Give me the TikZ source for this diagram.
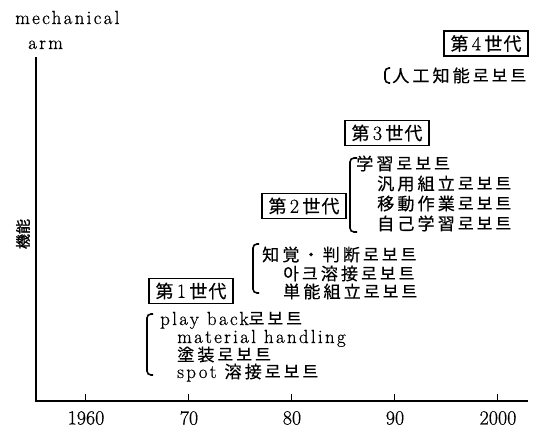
\documentclass[tikz,border=0pt]{standalone}
\usepackage{fontspec}
\setmainfont{Latin Modern Roman}[LetterSpace=12,FakeBold=0.6]
\newfontfamily\cjk{Noto Sans CJK JP}[Scale=0.9,LetterSpace=18,FakeBold=0.4]
\newfontfamily\cjkbox{Noto Sans CJK JP}[Scale=0.9,LetterSpace=6,FakeBold=0.4]
\newfontfamily\cjkb{Noto Sans CJK JP}[FakeBold=1.5]
\newfontfamily\digits{Latin Modern Roman}[FakeBold=0.6]
\begin{document}
\begin{tikzpicture}[x=1pt,y=-1pt,
  lbl/.style={anchor=base west,inner sep=0pt,text height=12pt,text depth=2pt,font=\fontsize{19}{21}\selectfont},
  genbox/.style={draw,line width=1.1pt,inner xsep=2pt,inner ysep=0pt,minimum width=84pt,minimum height=25pt,font=\fontsize{20}{22}\selectfont},
  brk/.style={line width=1.6pt,rounded corners=4pt},
  axisline/.style={line width=1.4pt},
  tick/.style={line width=1pt},
  yearlbl/.style={font=\digits\fontsize{20}{22}\selectfont,inner sep=0pt}]
\useasboundingbox (0,0) rectangle (540,428);
% axes
\coordinate (ytop) at (36,57);
\coordinate (O) at (36,401);
\coordinate (xend) at (528,401);
\draw[axisline] (ytop) -- (O) -- (xend);
\foreach \yr/\lab [count=\i] in {1960/1960,1970/70,1980/80,1990/90,2000/2000}{
  \coordinate (t\i) at ({85+10.3*(\yr-1960)},401);
  \draw[tick] (t\i) -- ++(0,-7);
  \node[yearlbl] (y\i) at ({86+10.3*(\yr-1960)},418) {\lab};
}
\node[lbl] (mech) at (15,24) {mechanical};
\node[lbl] (arm) at (28,49) {arm};
\node[rotate=90,inner sep=0pt,font=\cjkb\fontsize{15}{15}\selectfont] (kino) at (23,234) {機能};
% generation boxes
\node[genbox] (g4) at (486,43.5) {{\cjkbox 第}\,4\,{\cjkbox 世代}};
\node[genbox] (g3) at (387,133) {{\cjkbox 第}\,3\,{\cjkbox 世代}};
\node[genbox] (g2) at (304,206) {{\cjkbox 第}\,2\,{\cjkbox 世代}};
\node[genbox] (g1) at (191,291) {{\cjkbox 第}\,1\,{\cjkbox 世代}};
% gen 4
\draw[brk] (390,68) -- (385,68) -- (385,83) -- (390,83);
\node[lbl] (r41) at (392,82) {\cjk 人工知能로보트};
% gen 3
\draw[brk] (357,158) -- (350,158) -- (350,232) -- (357,232);
\node[lbl] (r31) at (356,170) {\cjk 学習로보트};
\node[lbl] (r32) at (377,190) {\cjk 汎用組立로보트};
\node[lbl] (r33) at (377,210) {\cjk 移動作業로보트};
\node[lbl] (r34) at (377,230) {\cjk 自己学習로보트};
% gen 2
\draw[brk] (259,244) -- (253,244) -- (253,293) -- (259,293);
\node[lbl] (r21) at (262,261) {\cjk 知覚・判断로보트};
\node[lbl] (r22) at (283,280) {\cjk 아크溶接로보트};
\node[lbl] (r23) at (283,298) {\cjk 単能組立로보트};
% gen 1
\draw[brk] (153,314) -- (147,314) -- (147,375) -- (153,375);
\node[lbl] (r11) at (160,325) {play back{\cjk 로보트}};
\node[lbl] (r12) at (177,343) {material handling};
\node[lbl] (r13) at (177,361) {\cjk 塗装로보트};
\node[lbl] (r14) at (177,378) {spot {\cjk 溶接로보트}};
\end{tikzpicture}
\end{document}
